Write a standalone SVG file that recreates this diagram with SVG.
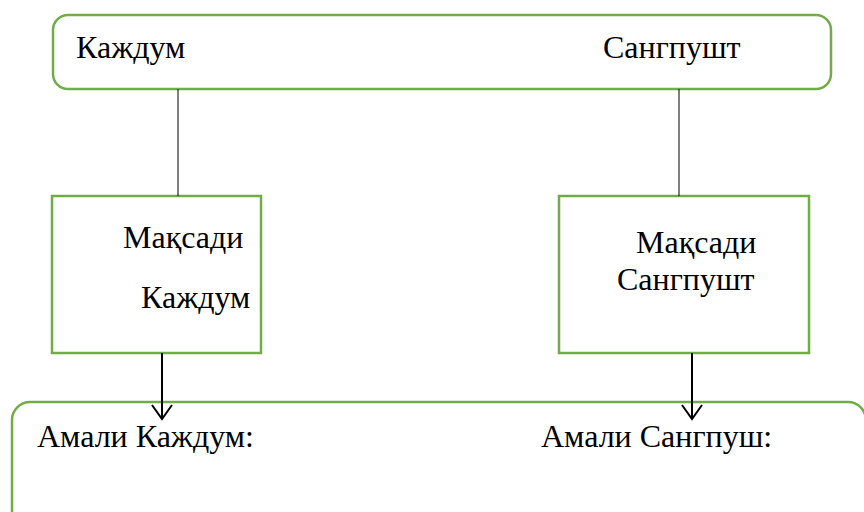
<svg xmlns="http://www.w3.org/2000/svg" width="864" height="512" viewBox="0 0 864 512">
<style>
.box{fill:#fff;stroke:#70AD47;stroke-width:2.5}
.t{font-family:"Liberation Serif","Times New Roman",serif;font-size:32px;fill:#000}
.c{stroke:#000;stroke-width:1;fill:none}
.a{stroke:#000;stroke-width:2;fill:none}
</style>
<g id="top">
<rect class="box" x="53" y="15" width="778" height="74" rx="15"/>
<text class="t" x="76" y="58">Каждум</text>
<text class="t" x="603" y="58">Сангпушт</text>
</g>
<g id="left">
<rect class="box" x="52" y="196" width="209" height="157"/>
<text class="t" x="123" y="248">Мақсади</text>
<text class="t" x="141" y="308">Каждум</text>
</g>
<g id="right">
<rect class="box" x="559" y="196" width="250" height="157"/>
<text class="t" x="636" y="253">Мақсади</text>
<text class="t" x="617" y="290">Сангпушт</text>
</g>
<g id="bottom">
<rect class="box" x="12" y="402" width="854" height="140" rx="18"/>
<text class="t" x="37" y="447">Амали Каждум:</text>
<text class="t" x="541" y="447">Амали Сангпуш:</text>
</g>
<g id="connectors">
<line class="c" x1="178" y1="89" x2="178" y2="196"/>
<line class="c" x1="679" y1="89" x2="679" y2="196"/>
<path class="a" d="M162,353 V419 M152,405 L162,419 L172,405"/>
<path class="a" d="M692,353 V419 M682,405 L692,419 L702,405"/>
</g>
</svg>
